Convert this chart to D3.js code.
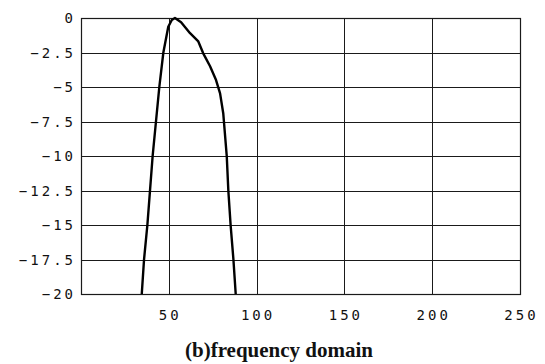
<!DOCTYPE html>
<html lang="en">
<head>
    <meta charset="UTF-8">
    <title>Frequency domain</title>
    <script src="https://d3js.org/d3.v7.min.js"></script>
    <style>
        body {
            margin: 0;
            background-color: #ffffff;
        }
        .tick-label {
            font-family: "DejaVu Sans Mono", monospace;
            font-size: 14px;
            letter-spacing: 3px;
            fill: #111;
        }
        .caption {
            font-family: "Liberation Serif", serif;
            font-weight: bold;
            font-size: 21px;
            fill: #111;
        }
    </style>
</head>
<body>
    <div id="chart"></div>
    <script>
        const width = 545, height = 364;
        const margin = {top: 18, right: 25, bottom: 70, left: 81};

        // curve (frequency vs dB)
        const freq = [34.6, 35.9, 37.8, 39.3, 40.8, 42.7, 44.6, 46.9, 49.7, 51.7, 53.5, 57.0, 62.1, 66.8, 69.6, 73.5, 76.9, 79.2, 81.0, 83.0, 83.9, 85.2, 86.8, 88.1];
        const db   = [-20, -17.5, -15, -12.5, -10, -7.5, -5, -2.5, -0.63, -0.14, 0, -0.3, -1.1, -1.7, -2.56, -3.5, -4.5, -5.46, -6.9, -10, -12.5, -15, -17.5, -20];

        const xTicks = [50, 100, 150, 200, 250];
        const yTicks = [0, -2.5, -5, -7.5, -10, -12.5, -15, -17.5, -20];
        const caption = "(b)frequency domain";

        const svg = d3.select("#chart").append("svg")
            .attr("width", width)
            .attr("height", height);

        const x = d3.scaleLinear().domain([0, 250]).range([margin.left, width - margin.right]);
        const y = d3.scaleLinear().domain([-20, 0]).range([height - margin.bottom, margin.top]);

        const grid = svg.append("g").attr("stroke", "#1a1a1a").attr("stroke-width", 1).attr("shape-rendering", "crispEdges");

        // horizontal grid lines
        grid.selectAll(".h").data(yTicks).enter().append("line")
            .attr("x1", x(0)).attr("x2", x(250))
            .attr("y1", d => Math.round(y(d)) + 0.5).attr("y2", d => Math.round(y(d)) + 0.5);

        // vertical grid lines
        grid.selectAll(".v").data(xTicks.filter(d => d < 250)).enter().append("line")
            .attr("y1", y(0)).attr("y2", y(-20))
            .attr("x1", d => Math.round(x(d)) + 0.5).attr("x2", d => Math.round(x(d)) + 0.5);

        // frame
        svg.append("rect")
            .attr("x", Math.round(x(0)) + 0.5).attr("y", Math.round(y(0)) + 0.5)
            .attr("width", Math.round(x(250) - x(0))).attr("height", Math.round(y(-20) - y(0)))
            .attr("fill", "none").attr("stroke", "#1a1a1a").attr("stroke-width", 1.2);

        const fmt = d => d < 0 ? "\u2212" + Math.abs(d) : String(d);

        // y tick labels
        svg.append("g").selectAll("text").data(yTicks).enter().append("text")
            .attr("class", "tick-label")
            .attr("x", x(0) - 5)
            .attr("y", d => y(d) + 5)
            .attr("text-anchor", "end")
            .text(fmt);

        // x tick labels
        svg.append("g").selectAll("text").data(xTicks).enter().append("text")
            .attr("class", "tick-label")
            .attr("x", d => x(d) + 1.5)
            .attr("y", y(-20) + 26)
            .attr("text-anchor", "middle")
            .text(fmt);

        // curve
        const pts = freq.map((f, i) => [f, db[i]]);
        svg.append("path")
            .datum(pts)
            .attr("fill", "none")
            .attr("stroke", "#000")
            .attr("stroke-width", 2.4)
            .attr("stroke-linejoin", "round")
            .attr("d", d3.line().x(d => x(d[0])).y(d => y(d[1])));

        svg.append("text")
            .attr("class", "caption")
            .attr("x", 279)
            .attr("y", 357)
            .attr("text-anchor", "middle")
            .text(caption);
    </script>
</body>
</html>
